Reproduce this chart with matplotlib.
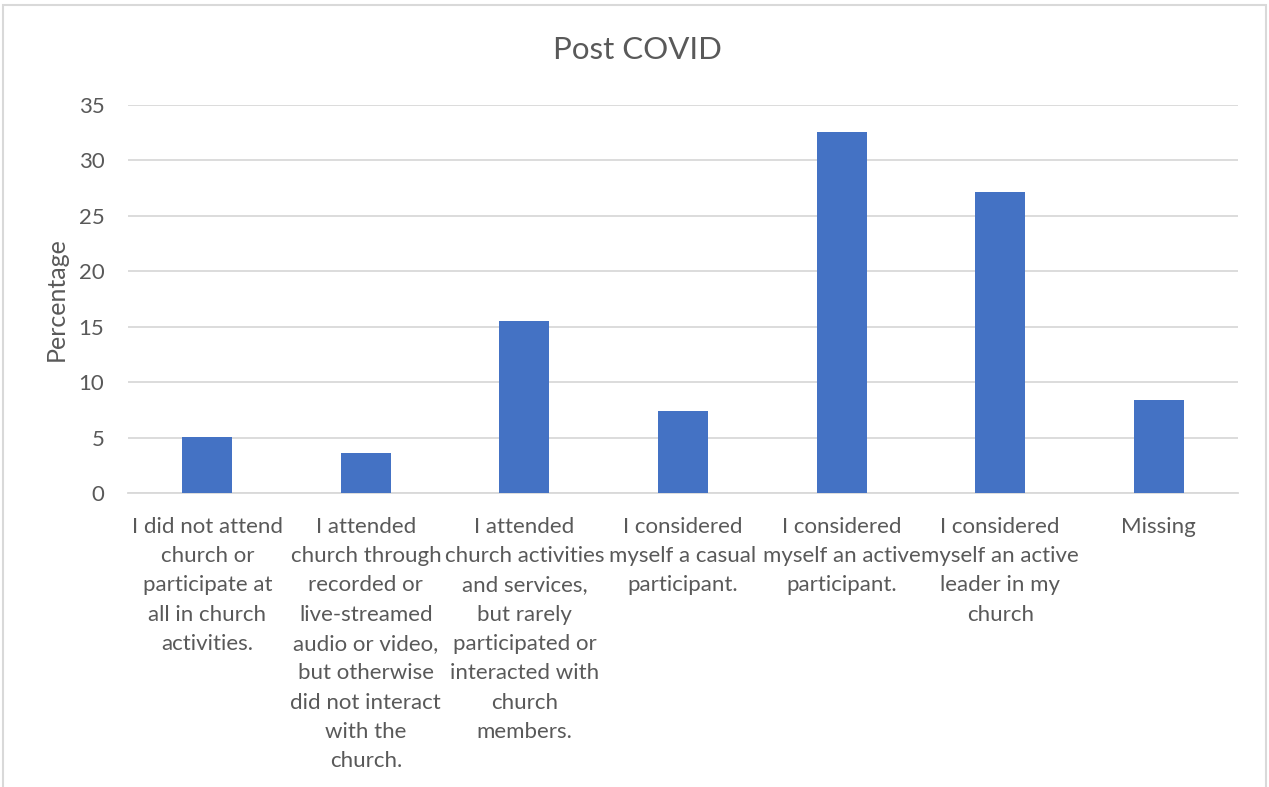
import matplotlib
matplotlib.use("Agg")
import matplotlib.pyplot as plt
from matplotlib.patches import Rectangle

categories = [
    "I did not attend\nchurch or\nparticipate at\nall in church\nactivities.",
    "I attended\nchurch through\nrecorded or\nlive-streamed\naudio or video,\nbut otherwise\ndid not interact\nwith the\nchurch.",
    "I attended\nchurch activities\nand services,\nbut rarely\nparticipated or\ninteracted with\nchurch\nmembers.",
    "I considered\nmyself a casual\nparticipant.",
    "I considered\nmyself an active\nparticipant.",
    "I considered\nmyself an active\nleader in my\nchurch",
    "Missing",
]
percentages = [5.1, 3.6, 15.5, 7.4, 32.6, 27.2, 8.4]
y_ticks = [0, 5, 10, 15, 20, 25, 30, 35]

text_color = "#595959"
grid_color = "#d9d9d9"
bar_color = "#4472C4"

plt.rcParams["font.family"] = ["Lato", "DejaVu Sans"]

W, H = 1269, 787
fig = plt.figure(figsize=(W / 100, H / 100), dpi=100)
ax = fig.add_axes([128 / W, 1 - 493.3 / H, (1238 - 128) / W, (493.3 - 105) / H])

x = range(len(categories))
ax.bar(x, percentages, width=0.315, color=bar_color, zorder=3)

ax.set_xlim(-0.5, len(categories) - 0.5)
ax.set_ylim(0, 35)
ax.set_yticks(y_ticks)
ax.set_yticklabels([str(v) for v in y_ticks])
ax.set_xticks(list(x))
ax.set_xticklabels(categories, linespacing=1.58)

ax.yaxis.grid(True, color=grid_color, linewidth=1.3, zorder=0)
ax.set_axisbelow(True)
for side in ["top", "right", "left"]:
    ax.spines[side].set_visible(False)
ax.spines["bottom"].set_color(grid_color)
ax.spines["bottom"].set_linewidth(1.3)
ax.tick_params(axis="both", length=0, labelsize=16, labelcolor=text_color)
ax.tick_params(axis="x", pad=17)
ax.tick_params(axis="y", pad=17)

ax.set_ylabel("Percentage", fontsize=18, color=text_color, labelpad=8)
fig.text(637 / W, 1 - 50 / H, "Post COVID", ha="center", va="center",
         fontsize=22.5, color=text_color)

# chart frame
fig.patches.append(Rectangle((3 / W, -0.05), (1266 - 3) / W, 1.05 - 5 / H,
                             transform=fig.transFigure, fill=False,
                             edgecolor=grid_color, linewidth=1.5))

fig.savefig("out.png", dpi=100, facecolor="white")
